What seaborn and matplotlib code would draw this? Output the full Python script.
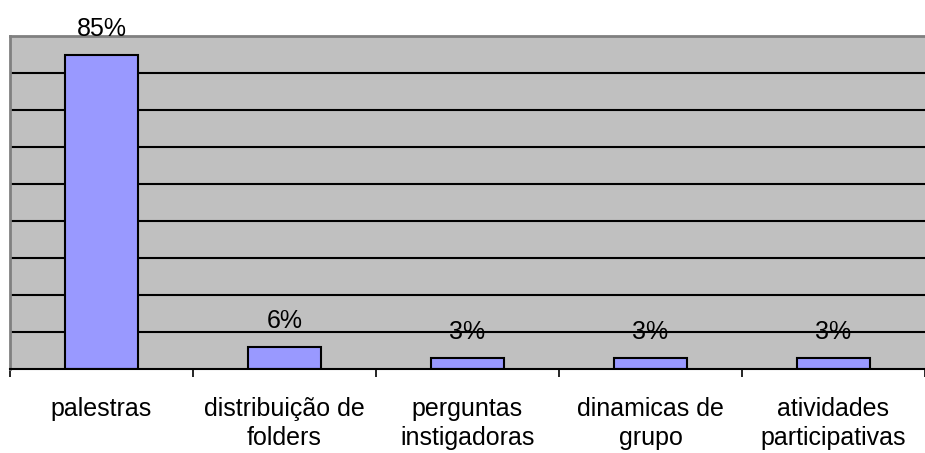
import matplotlib
matplotlib.use("Agg")
import matplotlib.pyplot as plt
import numpy as np
import pandas as pd
import seaborn as sns

categories = [
    "palestras",
    "distribuição de\nfolders",
    "perguntas\ninstigadoras",
    "dinamicas de\ngrupo",
    "atividades\nparticipativas",
]
values = [0.85, 0.06, 0.03, 0.03, 0.03]
value_labels = ["85%", "6%", "3%", "3%", "3%"]

sns.set_style("white")
plt.rcParams["font.family"] = ["Liberation Sans", "DejaVu Sans"]
plt.rcParams["text.color"] = "black"
plt.rcParams["xtick.color"] = "black"
plt.rcParams["xtick.labelcolor"] = "black"

df = pd.DataFrame({"categoria": categories, "valor": values})

fig = plt.figure(figsize=(9.25, 4.53), dpi=100)
ax = fig.add_axes([10 / 925, 1 - 369 / 453, 1 - 10 / 925, (369 - 36) / 453])
ax.set_facecolor("#C0C0C0")

sns.barplot(
    data=df, x="categoria", y="valor", color="#9999FF", saturation=1,
    width=0.4, edgecolor="black", linewidth=1.5, ax=ax,
)

ax.set_ylim(0, 0.9)
ax.set_xlim(-0.5, len(categories) - 0.5)
ax.set_yticks(np.arange(0.1, 0.81, 0.1))
ax.set_yticklabels([])
ax.tick_params(axis="y", length=0)
ax.set_axisbelow(True)
ax.yaxis.grid(True, color="black", linewidth=1.5)
ax.xaxis.grid(False)

# tick marks between categories, labels centred under the bars
ax.set_xticks(np.arange(-0.5, len(categories), 1.0), minor=True)
ax.tick_params(axis="x", which="minor", bottom=True, length=6, width=1.2,
               color="black", direction="out")
ax.tick_params(axis="x", which="major", bottom=True, length=0, pad=20,
               labelsize=18, labelcolor="black")
for lbl in ax.get_xticklabels():
    lbl.set_multialignment("center")
    lbl.set_linespacing(1.3)

ax.set_xlabel("")
ax.set_ylabel("")

for side in ["top", "left"]:
    ax.spines[side].set_color("#808080")
    ax.spines[side].set_linewidth(2)
ax.spines["right"].set_visible(False)
ax.spines["bottom"].set_color("black")
ax.spines["bottom"].set_linewidth(1.5)

for i, (v, t) in enumerate(zip(values, value_labels)):
    ax.annotate(t, xy=(i, v), xytext=(0, 13.5), textcoords="offset points",
                ha="center", va="baseline", fontsize=18, color="black",
                clip_on=False)

fig.savefig("out.png", dpi=100)
